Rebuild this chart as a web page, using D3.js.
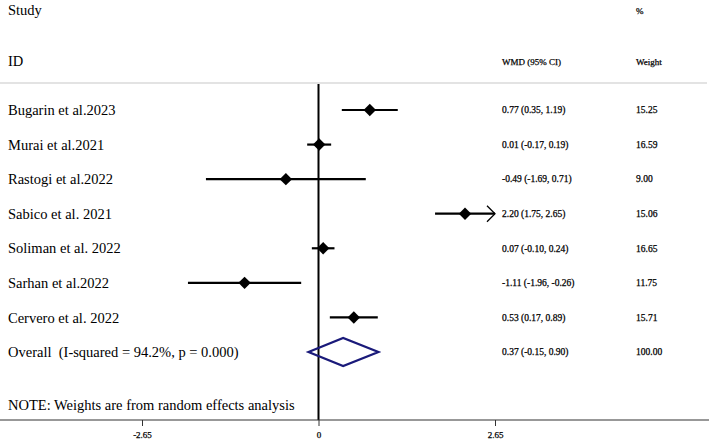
<!DOCTYPE html>
<html>
<head>
<meta charset="utf-8">
<script src="https://cdn.jsdelivr.net/npm/d3@7"></script>
<style>
  body { margin: 0; background: #fff; }
  text { font-family: "Liberation Serif", "Times New Roman", serif; fill: #000; }
  .small { stroke: #000; stroke-width: 0.25px; }
</style>
</head>
<body>
<div id="chart"></div>
<script>
// Forest plot data (WMD, 95% CI, random-effects weights)
const studies = ["Bugarin et al.2023", "Murai et al.2021", "Rastogi et al.2022", "Sabico et al. 2021",
  "Soliman et al. 2022", "Sarhan et al.2022", "Cervero et al. 2022"];
const wmd = [0.77, 0.01, -0.49, 2.20, 0.07, -1.11, 0.53];
const lower = [0.35, -0.17, -1.69, 1.75, -0.10, -1.96, 0.17];
const upper = [1.19, 0.19, 0.71, 2.65, 0.24, -0.26, 0.89];
const weights = ["15.25", "16.59", "9.00", "15.06", "16.65", "11.75", "15.71"];

const overallLabel = "Overall  (I-squared = 94.2%, p = 0.000)";
const overall = { est: 0.37, lo: -0.15, hi: 0.90, weight: "100.00" };
const xTicks = [-2.65, 0, 2.65];
const note = "NOTE: Weights are from random effects analysis";

const width = 709, height = 442;
// plain hyphen minus, like Stata output
const fmt = (v) => v.toFixed(2);

const svg = d3.select("#chart").append("svg")
  .attr("width", width)
  .attr("height", height);

const x = d3.scaleLinear().domain([-2.65, 2.65]).range([142, 495]);
const y = d3.scaleLinear().domain([0, studies.length]).range([110, 352]);

const rows = studies.map((s, i) => ({ study: s, est: wmd[i], lo: lower[i], hi: upper[i], w: weights[i], i }));

// header
const header = svg.append("g");
header.append("text").attr("x", 8).attr("y", 10).attr("dy", "0.35em")
  .attr("font-size", "14.5px").text("Study");
header.append("text").attr("x", 8).attr("y", 61).attr("dy", "0.35em")
  .attr("font-size", "14.5px").text("ID");
header.append("text").attr("class", "small").attr("x", 636).attr("y", 11).attr("dy", "0.35em")
  .attr("font-size", "9px").text("%");
header.append("text").attr("class", "small").attr("x", 502).attr("y", 62).attr("dy", "0.35em")
  .attr("font-size", "9px").text("WMD (95% CI)");
header.append("text").attr("class", "small").attr("x", 636).attr("y", 62).attr("dy", "0.35em")
  .attr("font-size", "9px").text("Weight");

// separator
svg.append("line")
  .attr("x1", 0).attr("x2", 707)
  .attr("y1", 83).attr("y2", 83)
  .attr("stroke", "#c8c8c8").attr("stroke-width", 1.2);

// null line
svg.append("line")
  .attr("x1", x(0)).attr("x2", x(0))
  .attr("y1", 84).attr("y2", 420)
  .attr("stroke", "#000").attr("stroke-width", 2);

// x axis
const xAxisG = svg.append("g")
  .attr("transform", `translate(0,420)`)
  .call(d3.axisBottom(x).tickValues(xTicks).tickSize(6).tickSizeOuter(0)
    .tickFormat((d) => d === 0 ? "0" : fmt(d)));
xAxisG.select(".domain").remove();
xAxisG.selectAll(".tick line").attr("stroke", "#333").attr("stroke-width", 1);
xAxisG.selectAll(".tick text")
  .attr("class", "small")
  .attr("font-family", "Liberation Serif, serif")
  .attr("font-size", "9px").attr("fill", "#000").attr("y", 12);
xAxisG.append("line")
  .attr("x1", 0).attr("x2", width)
  .attr("stroke", "#333").attr("stroke-width", 1.2);

// study labels
const rowG = svg.append("g");
rowG.selectAll("text.study")
  .data(rows)
  .join("text")
  .attr("class", "study")
  .attr("x", 8)
  .attr("y", (d) => y(d.i))
  .attr("dy", "0.35em")
  .attr("font-size", "14.5px")
  .text((d) => d.study);

// CI lines (clipped to axis range)
rowG.selectAll("line.ci")
  .data(rows)
  .join("line")
  .attr("class", "ci")
  .attr("x1", (d) => x(Math.max(d.lo, -2.65)))
  .attr("x2", (d) => x(Math.min(d.hi, 2.65)))
  .attr("y1", (d) => y(d.i))
  .attr("y2", (d) => y(d.i))
  .attr("stroke", "#000")
  .attr("stroke-width", 2.2);

// arrows where CI reaches the axis limit
rowG.selectAll("path.arrow")
  .data(rows.filter((d) => d.hi >= 2.65))
  .join("path")
  .attr("class", "arrow")
  .attr("d", (d) => {
    const tx = x(2.65), ty = y(d.i);
    return `M${tx - 8},${ty - 8}L${tx},${ty}L${tx - 8},${ty + 8}`;
  })
  .attr("fill", "none")
  .attr("stroke", "#000")
  .attr("stroke-width", 1.3);

// point estimates
rowG.selectAll("path.pt")
  .data(rows)
  .join("path")
  .attr("class", "pt")
  .attr("d", (d) => {
    const cx = x(d.est), cy = y(d.i), r = 6.2;
    return `M${cx},${cy - r}L${cx + r},${cy}L${cx},${cy + r}L${cx - r},${cy}Z`;
  })
  .attr("fill", "#000");

// right-hand columns
rowG.selectAll("text.est")
  .data(rows)
  .join("text")
  .attr("class", "est small")
  .attr("x", 502)
  .attr("y", (d) => y(d.i))
  .attr("dy", "0.35em")
  .attr("font-size", "9.5px")
  .text((d) => `${fmt(d.est)} (${fmt(d.lo)}, ${fmt(d.hi)})`);

rowG.selectAll("text.wt")
  .data(rows)
  .join("text")
  .attr("class", "wt small")
  .attr("x", 636)
  .attr("y", (d) => y(d.i))
  .attr("dy", "0.35em")
  .attr("font-size", "9.5px")
  .text((d) => d.w);

// overall row
const oy = y(studies.length);
svg.append("text").attr("x", 8).attr("y", oy).attr("dy", "0.35em")
  .attr("font-size", "14.5px").attr("xml:space", "preserve")
  .style("white-space", "pre").text(overallLabel);
svg.append("path")
  .attr("d", `M${x(overall.lo)},${oy}L${x(overall.est)},${oy - 14}L${x(overall.hi)},${oy}L${x(overall.est)},${oy + 14}Z`)
  .attr("fill", "none")
  .attr("stroke", "#1a1a7a")
  .attr("stroke-width", 2.2);
svg.append("text").attr("class", "small").attr("x", 502).attr("y", oy).attr("dy", "0.35em")
  .attr("font-size", "9.5px")
  .text(`${fmt(overall.est)} (${fmt(overall.lo)}, ${fmt(overall.hi)})`);
svg.append("text").attr("class", "small").attr("x", 636).attr("y", oy).attr("dy", "0.35em")
  .attr("font-size", "9.5px").text(overall.weight);

// note
svg.append("text").attr("x", 8).attr("y", 405).attr("dy", "0.35em")
  .attr("font-size", "14.5px").text(note);
</script>
</body>
</html>
